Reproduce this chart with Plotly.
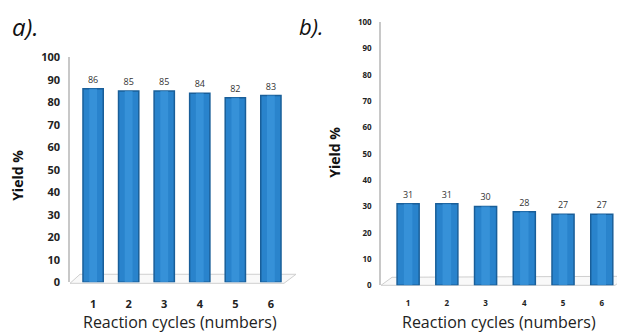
import plotly.graph_objects as go

cycles = ["1", "2", "3", "4", "5", "6"]
yield_a = [86, 85, 85, 84, 82, 83]
yield_b = [31, 31, 30, 28, 27, 27]
y_ticks = [0, 10, 20, 30, 40, 50, 60, 70, 80, 90, 100]

W, H = 625, 333
# calibration for page offset seen in the render
def px(x):
    return (x - 8) / W
def py(y):
    yi = (y - 15.8) / 0.951
    return (H - yi) / H

BAR = "#2a84cc"
EDGE = "#1a5f99"
LIGHT = "#3c97dd"
FONT = "Open Sans"

fig = go.Figure()

for data, xa, ya, lbl in [(yield_a, "x", "y", 9), (yield_b, "x2", "y2", 9)]:
    fig.add_trace(go.Bar(x=cycles, y=data, xaxis=xa, yaxis=ya, width=0.57,
                         marker=dict(color=BAR, line=dict(color=EDGE, width=1.5)),
                         text=[str(v) for v in data], textposition="outside",
                         textfont=dict(size=lbl, color="#333333", family=FONT),
                         cliponaxis=False, showlegend=False, hoverinfo="skip"))
    fig.add_trace(go.Bar(x=cycles, y=data, xaxis=xa, yaxis=ya, width=0.22,
                         marker=dict(color=LIGHT, line=dict(width=0)), opacity=0.7,
                         showlegend=False, hoverinfo="skip"))

common_x = dict(type="category", showgrid=False, zeroline=False, showline=False,
                ticks="", fixedrange=True)
common_y = dict(range=[0, 100], tickvals=y_ticks, showgrid=False, zeroline=False,
                showline=True, linecolor="#c8c8c8", linewidth=1.5, ticks="")

fig.update_layout(
    width=W, height=H, margin=dict(l=0, r=0, t=0, b=0),
    paper_bgcolor="white", plot_bgcolor="rgba(0,0,0,0)", barmode="overlay",
    font=dict(family=FONT, color="#222222"),
    xaxis=dict(domain=[px(70), px(294)], range=[-0.65, 5.65], anchor="y",
               tickfont=dict(size=11, family=FONT, color="#222222", weight="bold"),
               ticklabelstandoff=14, **common_x),
    yaxis=dict(domain=[py(281), py(57)], anchor="x",
               tickfont=dict(size=11, family=FONT, color="#222222", weight="bold"),
               ticklabelstandoff=6, **common_y),
    xaxis2=dict(domain=[px(381), px(625)], range=[-0.7, 5.6], anchor="y2",
                tickfont=dict(size=8, family=FONT, color="#222222", weight="bold"),
                ticklabelstandoff=12, **common_x),
    yaxis2=dict(domain=[py(284), py(22)], anchor="x2",
                tickfont=dict(size=8, family=FONT, color="#222222", weight="bold"),
                ticklabelstandoff=6, **common_y),
)

# 3D floor outlines (decoration)
def floor(pts):
    d = "M " + " L ".join(f"{px(x)},{py(y)}" for x, y in pts) + " Z"
    return dict(type="path", xref="paper", yref="paper", path=d,
                line=dict(color="#cfcfcf", width=1), fillcolor="rgba(245,245,245,0.6)",
                layer="below")

fig.update_layout(shapes=[
    floor([(70, 282), (284, 282), (296, 273), (80, 273)]),
    floor([(381, 284), (615, 284), (627, 275), (392, 276)]),
])

ann = [
    dict(text="<i>a).</i>", x=px(10), y=py(26), xanchor="left", yanchor="middle",
         font=dict(size=24, family=FONT, color="#111111")),
    dict(text="<i>b).</i>", x=px(297), y=py(26), xanchor="left", yanchor="middle",
         font=dict(size=22, family=FONT, color="#111111")),
    dict(text="<b>Yield %</b>", x=px(18), y=py(175), textangle=-90, xanchor="center",
         yanchor="middle", font=dict(size=14, family=FONT, color="#111111")),
    dict(text="<b>Yield %</b>", x=px(335), y=py(152), textangle=-90, xanchor="center",
         yanchor="middle", font=dict(size=14, family=FONT, color="#111111")),
    dict(text="Reaction cycles (numbers)", x=px(180), y=py(321), xanchor="center",
         yanchor="middle", font=dict(size=16, family=FONT, color="#222222")),
    dict(text="Reaction cycles (numbers)", x=px(499), y=py(321), xanchor="center",
         yanchor="middle", font=dict(size=16, family=FONT, color="#222222")),
]
for a in ann:
    a.update(xref="paper", yref="paper", showarrow=False)
fig.update_layout(annotations=ann)

fig.write_html("out.html")
